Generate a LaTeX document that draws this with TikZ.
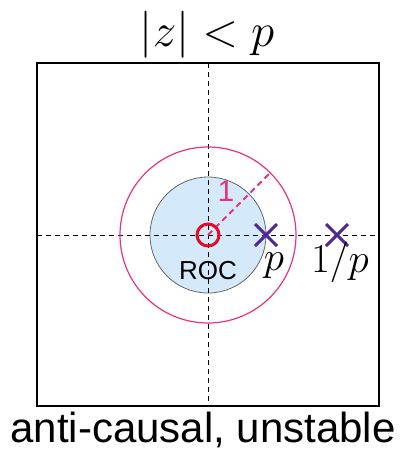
\RequirePackage{fix-cm}
\documentclass[tikz,border=0pt]{standalone}
\usepackage{fontspec}
\usetikzlibrary{calc}
\newfontfamily\arialfont{Liberation Sans}
\definecolor{rocblue}{RGB}{212,234,250}
\definecolor{unitpink}{RGB}{232,50,128}
\definecolor{zerored}{RGB}{228,10,40}
\definecolor{polepurple}{RGB}{80,40,150}
\tikzset{
  axisline/.style={black, line width=1pt, dash pattern=on 5pt off 4pt},
  polecross/.style={polepurple, line width=3pt},
  mathlabel/.style={inner sep=0pt, anchor=base, font=\fontsize{41}{44}\selectfont},
}
\begin{document}
\begin{tikzpicture}[x=1pt,y=-1pt]
\useasboundingbox (0,0) rectangle (406,451);
\coordinate (O) at (208,235);
% frame
\draw[line width=1.3pt] (37,63) rectangle (379,406);
% ROC disk
\fill[rocblue] (O) circle[radius=58];
\draw[gray!80!black, line width=0.8pt] (O) circle[radius=58];
% axes
\coordinate (xl) at (37,235);
\coordinate (xr) at (379,235);
\coordinate (yt) at (208,63);
\coordinate (yb) at (208,406);
\draw[axisline] (xl) -- (xr);
\draw[axisline] (yt) -- (yb);
% unit circle
\draw[unitpink, line width=1.2pt] (O) circle[radius=88];
\coordinate (R) at ($(O)+(-45:88)$);
\draw[unitpink, line width=2pt, dash pattern=on 6pt off 4pt] (O) -- (R);
\node[text=unitpink, font=\arialfont\fontsize{30}{32}\selectfont, inner sep=0pt] (one) at (226,191) {1};
% zero
\draw[zerored, line width=3pt] (O) circle[radius=11];
% poles
\coordinate (P) at (266,235);
\coordinate (Q) at (337,235);
\draw[polecross] ($(P)+(-11,-11)$) -- ($(P)+(11,11)$) ($(P)+(-11,11)$) -- ($(P)+(11,-11)$);
\draw[polecross] ($(Q)+(-11,-11)$) -- ($(Q)+(11,11)$) ($(Q)+(-11,11)$) -- ($(Q)+(11,-11)$);
\node[mathlabel] (plab) at (274,270) {$p$};
\node[mathlabel] (qlab) at (340,272) {$1/p$};
\node[font=\arialfont\fontsize{26}{30}\selectfont, inner sep=0pt, anchor=base] (roc) at (208,279) {ROC};
% title and caption
\node[inner sep=0pt, anchor=base, font=\fontsize{47}{50}\selectfont] (title) at (207,46) {$|z| < p$};
\node[inner sep=0pt, anchor=base, font=\arialfont\fontsize{42}{45}\selectfont] (cap) at (203,442) {anti-causal, unstable};
\end{tikzpicture}
\end{document}
